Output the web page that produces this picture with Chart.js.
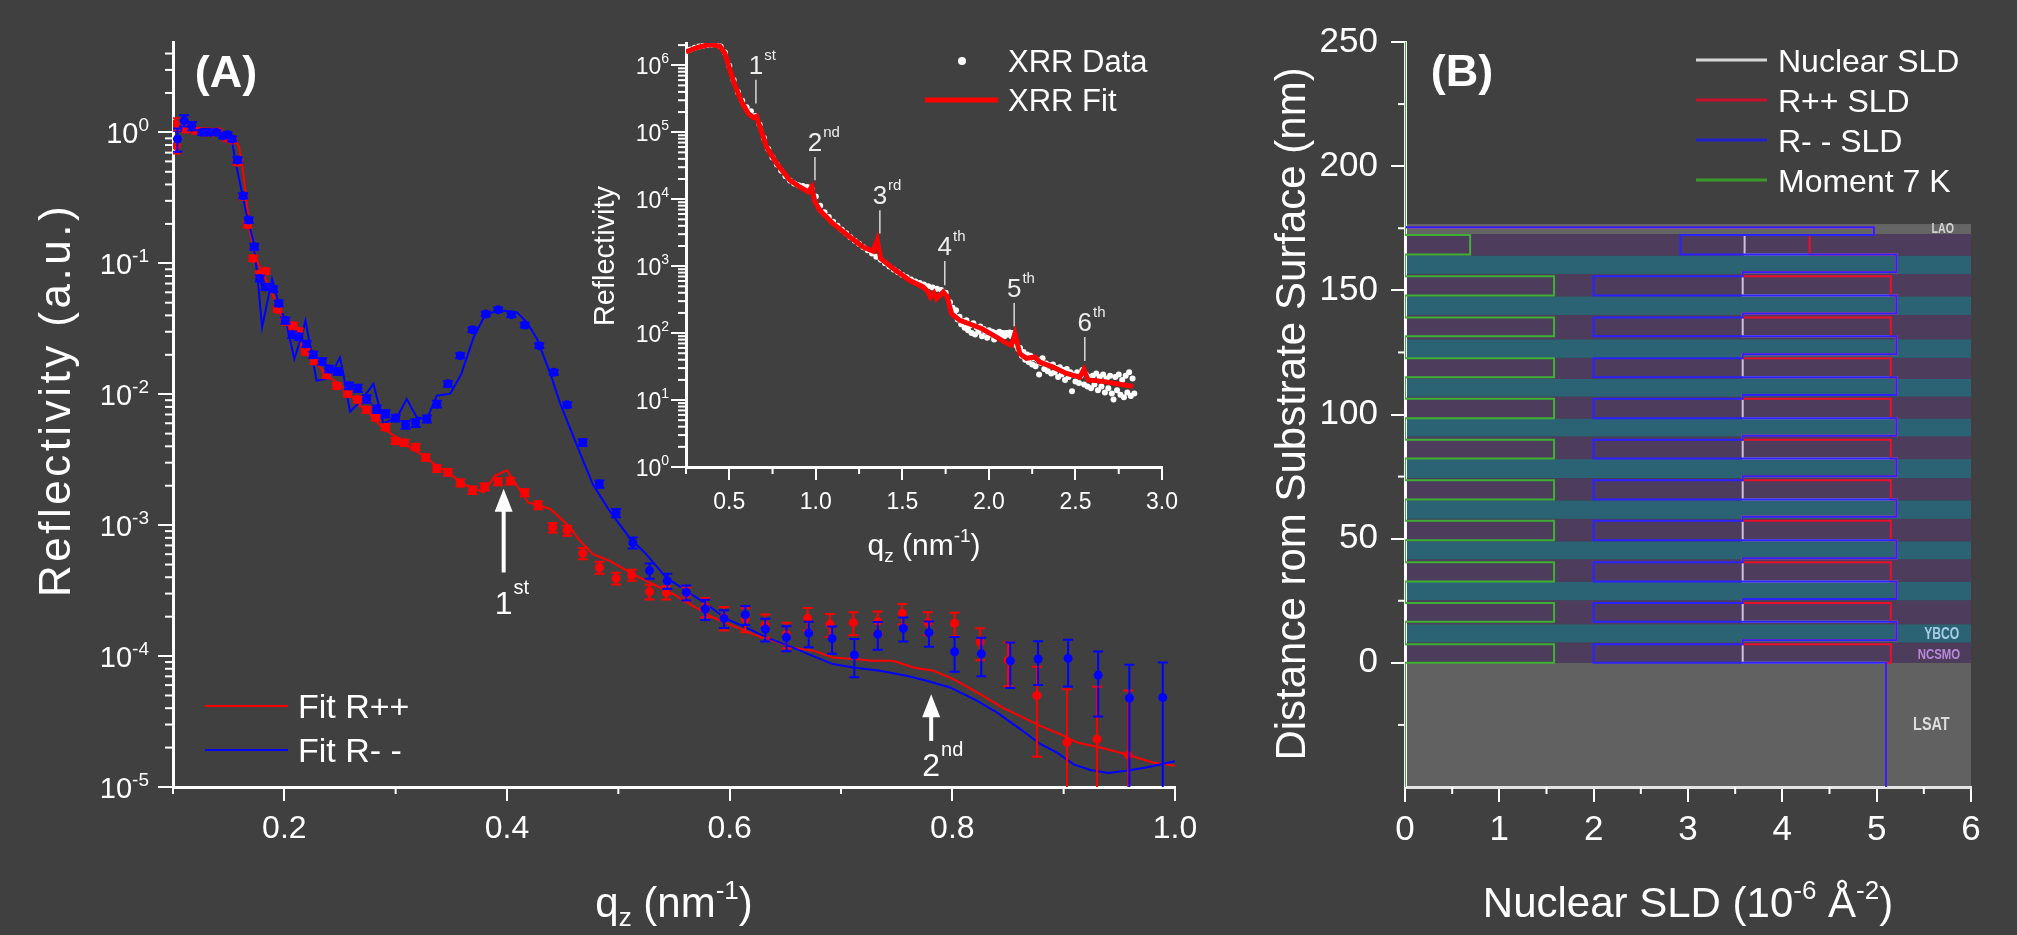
<!DOCTYPE html>
<html>
<head>
<meta charset="utf-8">
<script src="https://cdn.jsdelivr.net/npm/chart.js@4/dist/chart.umd.min.js"></script>
<style>
html, body { margin: 0; padding: 0; background: #404040; width: 2017px; height: 935px; overflow: hidden; }
canvas { position: absolute; top: 0; display: block; }
#cA { left: 0; }
#cI { left: 560px; }
#cB { left: 1250px; }
</style>
</head>
<body>
<canvas id="cA" width="1250" height="935"></canvas>
<canvas id="cI" width="620" height="570"></canvas>
<canvas id="cB" width="767" height="935"></canvas>
<script>
// ---------- panel A : polarized neutron reflectivity ----------
const rppQ = [0.102,0.103,0.112,0.121,0.130,0.135,0.140, 0.148,0.153,0.158,0.163,0.167,0.172,0.178,0.183,
  0.194,0.201,0.208,0.213,0.219,0.227,0.238,0.247, 0.257,0.266,0.274,0.282,0.291,0.300,0.308,0.318,
  0.327,0.337,0.347,0.358,0.369,0.380,0.392,0.403, 0.416,0.428,0.441,0.454,0.468,0.483,0.498,0.512,
  0.528,0.543,0.561,0.578,0.595,0.614,0.632,0.651, 0.670,0.690,0.711,0.733,0.755,0.778,0.802,0.825,
  0.850,0.876,0.903,0.930,0.958];
const rppR = [1.16,0.79,1.06,1.03,1.0,1.0,1.01, 0.906,0.875,0.59,0.323,0.197,0.109,0.083,0.0868,
  0.0446,0.0359,0.0334,0.0302,0.0212,0.0179,0.0140,0.0116, 0.0101,0.0091,0.0076,0.00666,0.0056,0.0044,0.00426,0.00395,
  0.00329,0.00271,0.00253,0.00210,0.00185,0.00196,0.00215,0.00217, 0.00177,0.00142,0.00096,0.00091,0.000608,0.000475,0.000392,0.000416,
  0.000311,0.000306,0.000297,0.000238,0.000197,0.000192,0.000173,0.000147, 0.000195,0.000175,0.000180,0.000184,0.000212,0.000180,0.000178,0.000128,
  0.0000928,0.0000500,0.0000219,0.0000232,0.0000176];
const rppErr = [0.12,0.10,0.06,0.05,0.04,0.04,0.04, 0.04,0.04,0.025,0.014,0.009,0.005,0.004,0.004,
  0.0022,0.0018,0.0017,0.0015,0.0011,0.0009,0.0007,0.0006, 0.0005,0.00045,0.0004,0.00035,0.0003,0.00024,0.00023,0.00022,
  0.00018,0.00016,0.00015,0.00013,0.00012,0.00012,0.00013,0.00013, 0.00011,0.0001,0.00008,0.00008,0.00006,0.00005,0.00004,0.00004,
  0.00004,0.000035,0.000035,0.00004,0.00004,0.00004,0.000035,0.000033, 0.000038,0.000035,0.000036,0.000035,0.000038,0.000036,0.000036,0.000035,
  0.000034,0.000033,0.000034,0.000035,0.000037];

const rmmQ = [0.104,0.110,0.117,0.126,0.130,0.134,0.139, 0.145,0.149,0.153,0.158,0.163,0.168,0.173,0.178,
  0.183,0.190,0.195,0.201,0.207,0.213,0.220,0.226, 0.234,0.240,0.248,0.258,0.266,0.274,0.283,0.291,
  0.300,0.309,0.318,0.328,0.337,0.347,0.358,0.369, 0.381,0.392,0.404,0.416,0.429,0.442,0.454,0.468,
  0.483,0.498,0.513,0.528,0.544,0.561,0.578,0.595, 0.614,0.632,0.651,0.671,0.692,0.712,0.733,0.756,
  0.779,0.802,0.826,0.852,0.877,0.904,0.931,0.959,0.989];
const rmmR = [0.89,1.23,1.12,1.0,1.0,1.0,1.0, 0.94,0.96,0.89,0.615,0.328,0.214,0.134,0.0767,
  0.066,0.0636,0.0494,0.0365,0.0285,0.0275,0.0242,0.020, 0.0178,0.0156,0.0149,0.0116,0.0111,0.0092,0.0077,0.0071,
  0.00658,0.00585,0.00603,0.00647,0.0084,0.012,0.0197,0.0311, 0.041,0.0442,0.0405,0.0338,0.0235,0.0147,0.0083,0.00428,
  0.00206,0.00124,0.000734,0.000449,0.000376,0.000306,0.000229,0.000194, 0.000207,0.000161,0.000139,0.00015,0.000136,0.000102,0.000147,0.000163,
  0.000151,0.000108,0.000104,0.000092,0.000095,0.000096,0.0000716,0.0000478,0.0000483];
const rmmErr = [0.18,0.12,0.08,0.04,0.04,0.04,0.04, 0.04,0.04,0.04,0.03,0.015,0.01,0.007,0.004,
  0.0035,0.0033,0.0025,0.002,0.0016,0.0015,0.0013,0.0011, 0.001,0.0009,0.0009,0.0007,0.0007,0.0006,0.0005,0.00045,
  0.0004,0.0004,0.0004,0.0004,0.0005,0.0006,0.0009,0.0013, 0.0016,0.0017,0.0016,0.0014,0.001,0.0007,0.0004,0.00025,
  0.00013,0.00009,0.00007,0.00006,0.00005,0.00004,0.00004,0.00003, 0.000034,0.000032,0.00003,0.000033,0.000032,0.000033,0.000035,0.000034,
  0.000033,0.000032,0.000034,0.000035,0.000035,0.0000375,0.000037,0.000038,0.000041];

const rppFitQ = [0.100,0.115,0.139,0.154,0.159,0.162,0.165,0.169,0.175,0.184, 0.193,0.202,0.211,0.220,0.229,0.241,0.253,0.265,0.277,0.289,
  0.301,0.313,0.325,0.337,0.349,0.361,0.379,0.389,0.400,0.409, 0.419,0.439,0.457,0.463,0.477,0.492,0.513,0.531,0.549,0.567,
  0.585,0.603,0.621,0.639,0.657,0.675,0.693,0.711,0.729,0.747, 0.765,0.783,0.801,0.825,0.846,0.861,0.879,0.897,0.912,0.933,
  0.956,0.980,1.000];
const rppFitR = [1.1,1.09,1.06,0.916,0.791,0.574,0.359,0.177,0.105,0.0736, 0.0489,0.0334,0.0272,0.0209,0.0170,0.0134,0.0113,0.00865,0.00706,0.00542,
  0.00468,0.00392,0.00339,0.00284,0.00245,0.00206,0.00178,0.00238,0.00263,0.00200, 0.00149,0.00133,0.00096,0.000805,0.000601,0.000535,0.000423,0.000355,0.000298,0.000242,
  0.000197,0.000170,0.000147,0.000131,0.000116,0.000110,0.0000975,0.0000948,0.0000920,0.0000920, 0.0000818,0.0000773,0.0000667,0.0000513,0.000040,0.0000348,0.0000293,0.0000253,0.0000219,0.0000200,
  0.0000178,0.0000154,0.0000145];

const rmmFitQ = [0.100,0.127,0.150,0.153,0.156,0.160,0.166,0.172,0.176,0.180, 0.189,0.196,0.202,0.209,0.216,0.219,0.229,0.238,0.244,0.250,
  0.253,0.259,0.269,0.280,0.289,0.301,0.310,0.319,0.328,0.337, 0.349,0.359,0.370,0.380,0.392,0.409,0.418,0.427,0.439,0.448,
  0.466,0.477,0.492,0.510,0.525,0.543,0.561,0.579,0.597,0.615, 0.633,0.657,0.675,0.693,0.711,0.735,0.759,0.777,0.798,0.822,
  0.840,0.861,0.879,0.894,0.909,0.924,0.940,0.956,0.974,1.000];
const rmmFitR = [1.03,1.0,0.97,0.865,0.608,0.415,0.238,0.149,0.078,0.0324, 0.0759,0.046,0.0344,0.0186,0.0288,0.0365,0.0127,0.0131,0.0151,0.0191,
  0.0143,0.00735,0.00891,0.0120,0.00598,0.00665,0.00919,0.00665,0.00646,0.00975, 0.0101,0.0143,0.0272,0.0398,0.0440,0.0422,0.0353,0.0264,0.0143,0.0084,
  0.00349,0.00206,0.00129,0.000805,0.000601,0.000398,0.000315,0.000250,0.000192,0.000165, 0.000139,0.000116,0.000100,0.0000869,0.0000819,0.0000773,0.0000708,0.0000648,0.0000576,0.0000456,
  0.0000371,0.0000277,0.0000213,0.0000183,0.0000149,0.0000135,0.0000128,0.0000133,0.0000141,0.0000157];

const arrowQ = [0.397, 0.781];
const arrowTip = [1.9e-3, 5.1e-5];
const arrowTail = [4.35e-4, 2.25e-5];
const arrowText = [['1', 'st'], ['2', 'nd']];
const arrowTextR = [2.1e-4, 1.22e-5];

const mainXTicks = [0.2, 0.4, 0.6, 0.8, 1.0];
const mainXMinor = [0.1, 0.3, 0.5, 0.7, 0.9];
const mainYDecades = [-5, -4, -3, -2, -1, 0];

// ---------- inset : XRR ----------
const xrrQ = [0.25,0.275,0.30,0.325,0.35,0.375,0.40,0.425,0.45,0.475, 0.50,0.525,0.55,0.575,0.60,0.625,0.65,0.675,0.70,0.725,
  0.75,0.775,0.80,0.825,0.85,0.875,0.90,0.925,0.95,0.975, 1.00,1.025,1.05,1.075,1.10,1.125,1.15,1.175,1.20,1.225,
  1.25,1.275,1.30,1.325,1.35,1.375,1.40,1.425,1.45,1.475, 1.50,1.525,1.55,1.575,1.60,1.625,1.65,1.675,1.70,1.725,
  1.75,1.775,
  1.79,1.80,1.81,1.82,1.83,1.84,1.85,1.86,1.87,1.88, 1.89,1.90,1.91,1.92,1.93,1.94,1.95,1.96,1.97,1.98,
  1.99,2.00,2.01,2.02,2.03,2.04,2.05,2.06,2.07,2.08, 2.09,2.10,2.11,2.12,2.13,2.14,2.15,2.16,2.17,2.18,
  2.19,2.20,2.21,2.22,2.23,2.24,2.25,2.26,2.27,2.28, 2.29,2.30,2.31,2.32,2.33,2.34,2.35,2.36,2.37,2.38,
  2.39,2.40,2.41,2.42,2.43,2.44,2.45,2.46,2.47,2.48, 2.49,2.50,2.51,2.52,2.53,2.54,2.55,2.56,2.57,2.58,
  2.59,2.60,2.61,2.62,2.63,2.64,2.65,2.66,2.67,2.68, 2.69,2.70,2.71,2.72,2.73,2.74,2.75,2.76,2.77,2.78,
  2.79,2.80,2.81,2.82,2.83,2.84];
const xrrR = [1.62e6,1.72e6,1.82e6,1.9e6,1.97e6,2.02e6,2.04e6,2.02e6,1.9e6,1.55e6, 9.8e5,6.0e5,4.0e5,2.95e5,2.35e5,2.05e5,1.75e5,1.3e5,8.2e4,5.6e4,
  4.2e4,3.3e4,2.65e4,2.2e4,1.9e4,1.72e4,1.62e4,1.57e4,1.52e4,1.42e4, 1.1e4,8.0e3,6.4e3,5.4e3,4.6e3,4.0e3,3.5e3,3.1e3,2.7e3,2.4e3,
  2.15e3,1.92e3,1.72e3,1.55e3,1.38e3,1.24e3,1.1e3,990,890,810, 740,680,630,590,560,530,500,480,460,440,
  400,290,
  240,190,220,160,175,135,150,120,155,110, 130,100,140,95,120,105,125,90,115,105,
  85,110,95,105,80,100,95,105,85,100, 90,100,95,102,90,100,80,65,58,60,
  46,52,40,48,37,46,34,42,32,40, 24,36,42,29,35,27,33,25,34,26,
  30,22,31,24,28,20,29,22,26,13.5, 24,19,26,18,23,28,17,24,16,22,
  15,23,17,25,14,22,16,24,13,21, 15,23,12.5,10.2,22,14,24,12,20,11,
  23,13,26,11.5,21,12.5];

const xrrFitQ = [0.25,0.312,0.389,0.446,0.475,0.504,0.533,0.572,0.610,0.639, 0.658,0.677,0.716,0.774,0.850,0.908,0.956,0.976,0.995,1.024,
  1.100,1.197,1.274,1.331,1.355,1.374,1.447,1.543,1.620,1.649, 1.663,1.682,1.697,1.736,1.759,1.784,1.832,1.909,1.957,2.024,
  2.102,2.130,2.150,2.179,2.217,2.265,2.294,2.371,2.448,2.525, 2.548,2.573,2.659,2.756,2.833];
const xrrFitR = [1.58e6,1.84e6,2.06e6,1.92e6,1.5e6,8.4e5,5.0e5,2.83e5,1.9e5,1.66e5, 1.73e5,1.2e5,6.0e4,3.4e4,1.92e4,1.52e4,1.28e4,1.52e4,9.1e3,6.8e3,
  4.3e3,2.73e3,1.93e3,1.67e3,2.43e3,1.3e3,920,610,490,410, 346,397,327,410,346,195,155,131,117,93,
  71,66,98,49,42,44,37,31,25,22, 28.5,20,19,17.2,16];

const braggQ = [0.654, 0.995, 1.370, 1.745, 2.146, 2.554];
const braggLow = [2.68e5, 1.91e4, 3.06e3, 518, 126, 38.3];
const braggHigh = [6.1e5, 4.27e4, 6.82e3, 1.19e3, 282, 87.5];
const braggText = [['1', 'st'], ['2', 'nd'], ['3', 'rd'], ['4', 'th'], ['5', 'th'], ['6', 'th']];

const insetXTicks = [0.5, 1.0, 1.5, 2.0, 2.5, 3.0];
const insetXMinor = [0.25, 0.75, 1.25, 1.75, 2.25, 2.75];
const insetYDecades = [0, 1, 2, 3, 4, 5, 6];

// ---------- panel B : SLD depth profile ----------
const magBottom = [0, 16.5, 32.8, 49.4, 65.8, 82.3, 98.5, 115.0, 131.5, 147.9, 164.4];
const magTop = [7.5, 24.1, 40.5, 57.2, 73.5, 89.8, 106.3, 122.7, 139.1, 155.7, 172.3];
const capTop = [9.1, 25.7, 42.1, 58.8, 75.1, 91.4, 107.9, 124.3, 140.7, 157.3, 172.3];
const magNuclear = [3.58, 3.58, 3.58, 3.58, 3.58, 3.58, 3.58, 3.58, 3.58, 3.58, 3.6];
const magRpp = [5.15, 5.15, 5.15, 5.15, 5.15, 5.15, 5.15, 5.15, 5.15, 5.15, 4.29];
const magRmm = [2.0, 2.0, 2.0, 2.0, 2.0, 2.0, 2.0, 2.0, 2.0, 2.0, 2.92];
const magMoment = [1.58, 1.58, 1.58, 1.58, 1.58, 1.58, 1.58, 1.58, 1.58, 1.58, 0.69];
const sldLSAT = 5.1, sldYBCO = 5.21, sldCap = 3.58, sldLAO = 4.97;
const laoRange = [172.3, 175.4];

const ncsmoBands = [[0, 8.2], [15.5, 25.2], [32.6, 41.7], [48.9, 58.0], [65.4, 74.4], [82.0, 91.2],
  [98.3, 107.2], [114.3, 122.8], [130.2, 140.1], [147.5, 156.6], [163.9, 172.7]];
const ybcoBands = [[8.2, 15.5], [25.2, 32.6], [41.7, 48.9], [58.0, 65.4], [74.4, 82.0],
  [91.2, 98.3], [107.2, 114.3], [122.8, 130.2], [140.1, 147.5], [156.6, 163.9]];
const laoBand = [172.7, 176.7];
const lsatBand = [-50, 0];

const layerLabels = ['LAO', 'YBCO', 'NCSMO', 'LSAT'];
const layerLabelX = [5.70, 5.69, 5.66, 5.58];
const layerLabelY = [174.7, 11.5, 3.1, -25.1];
const layerLabelColor = ['#d4d4d4', '#a6cde6', '#b88ad8', '#dcdcdc'];
const layerLabelSize = [14, 16, 15, 19];

const sldTicks = [0, 1, 2, 3, 4, 5, 6];
const sldMinor = [0.5, 1.5, 2.5, 3.5, 4.5, 5.5];
const depthTicks = [0, 50, 100, 150, 200, 250];
const depthMinor = [-25, 25, 75, 125, 175, 225];

// ---------- helpers ----------
const FONT = "'Liberation Sans', Arial, sans-serif";
Chart.defaults.font.family = FONT;
Chart.defaults.color = '#ffffff';
Chart.defaults.animation = false;
Chart.defaults.plugins.legend.display = false;
Chart.defaults.plugins.tooltip.enabled = false;

const pts = (xs, ys) => xs.map((x, i) => ({ x: x, y: ys[i] }));

function fixedSize(size) {
  return function (scale) {
    if (scale.isHorizontal()) scale.height = size; else scale.width = size;
    scale.paddingLeft = 0; scale.paddingRight = 0; scale.paddingTop = 0; scale.paddingBottom = 0;
  };
}
function setTicks(values) {
  return function (scale) { scale.ticks = values.map(v => ({ value: v })); };
}

// parts: [text, sizeFactor, riseFactor]
function rich(ctx, parts, x, y, size, align, bold, spacing) {
  ctx.letterSpacing = spacing ? spacing + 'px' : '0px';
  const fonts = parts.map(p => (bold ? 'bold ' : '') + Math.round(size * (p[1] || 1)) + 'px ' + FONT);
  const ws = parts.map((p, i) => { ctx.font = fonts[i]; return ctx.measureText(p[0]).width; });
  const w = ws.reduce((a, b) => a + b, 0);
  let cx = align === 'center' ? x - w / 2 : align === 'right' ? x - w : x;
  ctx.textAlign = 'left';
  ctx.textBaseline = 'alphabetic';
  parts.forEach((p, i) => {
    ctx.font = fonts[i];
    ctx.fillText(p[0], cx, y - size * (p[2] || 0));
    cx += ws[i];
  });
  ctx.letterSpacing = '0px';
}

// number centred on x, suffix as superscript to its right
function ordinal(ctx, num, suf, x, y, size, supSize, rise) {
  ctx.textBaseline = 'alphabetic';
  ctx.font = size + 'px ' + FONT;
  const w = ctx.measureText(num).width;
  ctx.textAlign = 'center';
  ctx.fillText(num, x, y);
  ctx.font = supSize + 'px ' + FONT;
  ctx.textAlign = 'left';
  ctx.fillText(suf, x + w / 2 + 1, y - rise);
}

function seg(ctx, x1, y1, x2, y2) {
  ctx.beginPath(); ctx.moveTo(x1, y1); ctx.lineTo(x2, y2); ctx.stroke();
}

function logMinor(ctx, scale, x0, len, decades, max) {
  decades.forEach(e => {
    for (let m = 2; m <= 9; m++) {
      const v = m * Math.pow(10, e);
      if (v > max) break;
      const py = scale.getPixelForValue(v);
      seg(ctx, x0 - len, py, x0, py);
    }
  });
}

function errorBars(chart, index) {
  const ds = chart.data.datasets[index];
  if (!ds.errors) return;
  const ctx = chart.ctx, ca = chart.chartArea, xs = chart.scales.x, ys = chart.scales.y;
  ctx.save();
  ctx.beginPath();
  ctx.rect(ca.left, ca.top, ca.right - ca.left, ca.bottom - ca.top);
  ctx.clip();
  ctx.strokeStyle = ds.backgroundColor;
  ctx.lineWidth = 2;
  ds.data.forEach((p, i) => {
    const e = ds.errors[i];
    const px = xs.getPixelForValue(p.x);
    const top = ys.getPixelForValue(p.y + e);
    const bot = p.y - e > 0 ? ys.getPixelForValue(p.y - e) : ca.bottom + 20;
    ctx.beginPath();
    ctx.moveTo(px, top); ctx.lineTo(px, bot);
    ctx.moveTo(px - 5, top); ctx.lineTo(px + 5, top);
    ctx.moveTo(px - 5, bot); ctx.lineTo(px + 5, bot);
    ctx.stroke();
  });
  ctx.restore();
}

const axisGrid = len => ({ drawOnChartArea: false, color: '#ffffff', lineWidth: 2, tickLength: len });

// ---------- chart A ----------
const decorA = {
  id: 'decorA',
  beforeDatasetDraw(chart, args) { errorBars(chart, args.index); },
  afterDraw(chart) {
    const ctx = chart.ctx, ca = chart.chartArea, xs = chart.scales.x, ys = chart.scales.y;
    ctx.save();
    ctx.strokeStyle = '#ffffff'; ctx.fillStyle = '#ffffff'; ctx.lineWidth = 2;
    mainXMinor.forEach(v => { const px = xs.getPixelForValue(v); seg(ctx, px, ca.bottom, px, ca.bottom + 7); });
    logMinor(ctx, ys, ca.left, 8, mainYDecades, ys.max);
    mainYDecades.forEach(e => {
      rich(ctx, [['10'], [String(e), 0.66, 0.42]], 149, ys.getPixelForValue(Math.pow(10, e)) + 11, 29, 'right');
    });
    // axis titles
    ctx.save();
    ctx.translate(70, 400); ctx.rotate(-Math.PI / 2);
    rich(ctx, [['Reflectivity (a.u.)']], 0, 0, 44, 'center', false, 3.5);
    ctx.restore();
    rich(ctx, [['q'], ['z', 0.62, -0.22], [' (nm'], ['-1', 0.62, 0.42], [')']], 674, 917, 42, 'center');
    rich(ctx, [['(A)']], 226, 87, 45, 'center', true);
    // legend
    const leg = [['Fit R++', '#ff0000', 706], ['Fit R- -', '#0000ff', 750]];
    leg.forEach(l => {
      ctx.strokeStyle = l[1]; ctx.lineWidth = 2;
      seg(ctx, 205, l[2], 288, l[2]);
      rich(ctx, [[l[0]]], 298, l[2] + 12, 34, 'left');
    });
    // arrows
    ctx.strokeStyle = '#ffffff'; ctx.fillStyle = '#ffffff';
    arrowQ.forEach((q, i) => {
      const px = xs.getPixelForValue(q);
      const tip = ys.getPixelForValue(arrowTip[i]), tail = ys.getPixelForValue(arrowTail[i]);
      ctx.lineWidth = 4;
      seg(ctx, px, tail, px, tip + 18);
      ctx.beginPath(); ctx.moveTo(px, tip); ctx.lineTo(px - 9, tip + 23); ctx.lineTo(px + 9, tip + 23); ctx.closePath(); ctx.fill();
      ordinal(ctx, arrowText[i][0], arrowText[i][1], px, ys.getPixelForValue(arrowTextR[i]), 32, 20, 20);
    });
    ctx.restore();
  }
};

new Chart(document.getElementById('cA'), {
  type: 'scatter',
  data: {
    datasets: [
      { label: 'Fit R++', data: pts(rppFitQ, rppFitR), showLine: true, borderColor: '#ff0000', borderWidth: 2, pointRadius: 0, order: 4 },
      { label: 'Fit R- -', data: pts(rmmFitQ, rmmFitR), showLine: true, borderColor: '#0000ff', borderWidth: 2, pointRadius: 0, order: 3 },
      { label: 'R++', data: pts(rppQ, rppR), errors: rppErr, backgroundColor: '#ff0000', borderWidth: 0, pointRadius: 4.5, order: 2 },
      { label: 'R- -', data: pts(rmmQ, rmmR), errors: rmmErr, backgroundColor: '#0000ff', borderWidth: 0, pointRadius: 4.5, order: 1 }
    ]
  },
  options: {
    responsive: false, devicePixelRatio: 1,
    layout: { padding: { left: 0, top: 42, right: 75, bottom: 0 } },
    scales: {
      x: { type: 'linear', min: 0.1, max: 1.0, bounds: 'data',
        afterBuildTicks: setTicks(mainXTicks), afterFit: fixedSize(148),
        grid: axisGrid(14), border: { color: '#ffffff', width: 3 },
        ticks: { color: '#ffffff', font: { size: 32 }, padding: 9, maxRotation: 0, callback: v => v.toFixed(1) } },
      y: { type: 'logarithmic', min: 1e-5, max: 4.9, bounds: 'data',
        afterBuildTicks: setTicks(mainYDecades.map(e => Math.pow(10, e))), afterFit: fixedSize(173),
        grid: axisGrid(15), border: { color: '#ffffff', width: 3 },
        ticks: { display: false } }
    }
  },
  plugins: [decorA]
});

// ---------- inset ----------
const decorI = {
  id: 'decorI',
  afterDraw(chart) {
    const ctx = chart.ctx, ca = chart.chartArea, xs = chart.scales.x, ys = chart.scales.y;
    ctx.save();
    ctx.strokeStyle = '#ffffff'; ctx.fillStyle = '#ffffff'; ctx.lineWidth = 2;
    insetXMinor.forEach(v => { const px = xs.getPixelForValue(v); seg(ctx, px, ca.bottom, px, ca.bottom + 7); });
    logMinor(ctx, ys, ca.left, 8, insetYDecades, ys.max);
    insetYDecades.forEach(e => {
      rich(ctx, [['10'], [String(e), 0.6, 0.46]], 109, ys.getPixelForValue(Math.pow(10, e)) + 8.5, 23, 'right');
    });
    ctx.save();
    ctx.translate(54, 256); ctx.rotate(-Math.PI / 2);
    rich(ctx, [['Reflectivity']], 0, 0, 29, 'center');
    ctx.restore();
    rich(ctx, [['q'], ['z', 0.62, -0.22], [' (nm'], ['-1', 0.62, 0.42], [')']], 364, 555, 30, 'center');
    // Bragg peak markers
    ctx.strokeStyle = '#d8d8d8'; ctx.fillStyle = '#eeeeee'; ctx.lineWidth = 1.5;
    braggQ.forEach((q, i) => {
      const px = xs.getPixelForValue(q);
      const lo = ys.getPixelForValue(braggLow[i]), hi = ys.getPixelForValue(braggHigh[i]);
      seg(ctx, px, lo, px, hi);
      ordinal(ctx, braggText[i][0], braggText[i][1], px, hi - 6, 26, 15, 14);
    });
    // legend
    ctx.fillStyle = '#ffffff';
    ctx.beginPath(); ctx.arc(402, 61, 4, 0, Math.PI * 2); ctx.fill();
    ctx.strokeStyle = '#ff0000'; ctx.lineWidth = 5;
    seg(ctx, 365, 100, 438, 100);
    rich(ctx, [['XRR Data']], 448, 72, 31, 'left');
    rich(ctx, [['XRR Fit']], 448, 111, 31, 'left');
    ctx.restore();
  }
};

new Chart(document.getElementById('cI'), {
  type: 'scatter',
  data: {
    datasets: [
      { label: 'XRR Fit', data: pts(xrrFitQ, xrrFitR), showLine: true, borderColor: '#ff0000', borderWidth: 5, pointRadius: 0, order: 0 },
      { label: 'XRR Data', data: pts(xrrQ, xrrR), backgroundColor: '#ffffff', borderWidth: 0, pointRadius: 3, order: 1 }
    ]
  },
  options: {
    responsive: false, devicePixelRatio: 1,
    layout: { padding: { left: 0, top: 43, right: 18, bottom: 0 } },
    scales: {
      x: { type: 'linear', min: 0.25, max: 3.0, bounds: 'data',
        afterBuildTicks: setTicks(insetXTicks), afterFit: fixedSize(103),
        grid: axisGrid(13), border: { color: '#ffffff', width: 3 },
        ticks: { color: '#ffffff', font: { size: 23 }, padding: 9, maxRotation: 0, callback: v => v.toFixed(1) } },
      y: { type: 'logarithmic', min: 1, max: 2.15e6, bounds: 'data',
        afterBuildTicks: setTicks(insetYDecades.map(e => Math.pow(10, e))), afterFit: fixedSize(126),
        grid: axisGrid(15), border: { color: '#ffffff', width: 3 },
        ticks: { display: false } }
    }
  },
  plugins: [decorI]
});

// ---------- chart B ----------
function profile(sub, mag, cap, ybco, lao) {
  const p = [{ x: sub, y: lsatBand[0] }, { x: sub, y: 0 }];
  for (let i = 0; i < magBottom.length; i++) {
    p.push({ x: mag[i], y: magBottom[i] }, { x: mag[i], y: magTop[i] });
    if (capTop[i] > magTop[i]) p.push({ x: cap, y: magTop[i] }, { x: cap, y: capTop[i] });
    if (i < magBottom.length - 1) p.push({ x: ybco, y: capTop[i] }, { x: ybco, y: magBottom[i + 1] });
  }
  p.push({ x: lao, y: laoRange[0] }, { x: lao, y: laoRange[1] }, { x: 0, y: laoRange[1] }, { x: 0, y: 250 });
  return p;
}

const decorB = {
  id: 'decorB',
  beforeDraw(chart) {
    const ctx = chart.ctx, ca = chart.chartArea, xs = chart.scales.x, ys = chart.scales.y;
    ctx.save();
    ctx.beginPath(); ctx.rect(ca.left, ca.top, ca.right - ca.left, ca.bottom - ca.top); ctx.clip();
    const band = (b, color) => {
      const y1 = ys.getPixelForValue(b[1]), y0 = ys.getPixelForValue(b[0]);
      ctx.fillStyle = color;
      ctx.fillRect(xs.getPixelForValue(0), y1, xs.getPixelForValue(6) - xs.getPixelForValue(0), y0 - y1);
    };
    band(lsatBand, '#616161');
    ncsmoBands.forEach(b => band(b, '#4e3c5d'));
    ybcoBands.forEach(b => band(b, '#2c6374'));
    band(laoBand, '#656565');
    ctx.restore();
  },
  afterDraw(chart) {
    const ctx = chart.ctx, ca = chart.chartArea, xs = chart.scales.x, ys = chart.scales.y;
    ctx.save();
    ctx.strokeStyle = '#ffffff'; ctx.fillStyle = '#ffffff'; ctx.lineWidth = 2;
    sldMinor.forEach(v => { const px = xs.getPixelForValue(v); seg(ctx, px, ca.bottom, px, ca.bottom + 7); });
    depthMinor.forEach(v => { const py = ys.getPixelForValue(v); seg(ctx, ca.left - 7, py, ca.left, py); });
    ctx.save();
    ctx.translate(55, 414); ctx.rotate(-Math.PI / 2);
    rich(ctx, [['Distance rom Substrate Surface (nm)']], 0, 0, 42, 'center');
    ctx.restore();
    rich(ctx, [['Nuclear SLD (10'], ['-6', 0.62, 0.42], [' Å'], ['-2', 0.62, 0.42], [')']], 438, 917, 42, 'center');
    rich(ctx, [['(B)']], 212, 86, 45, 'center', true);
    // layer names
    layerLabels.forEach((t, i) => {
      ctx.save();
      ctx.translate(xs.getPixelForValue(layerLabelX[i]), ys.getPixelForValue(layerLabelY[i]));
      ctx.scale(0.76, 1);
      ctx.fillStyle = layerLabelColor[i];
      ctx.font = 'bold ' + layerLabelSize[i] + 'px ' + FONT;
      ctx.textAlign = 'center'; ctx.textBaseline = 'middle';
      ctx.fillText(t, 0, 0);
      ctx.restore();
    });
    // legend
    chart.data.datasets.slice().reverse().forEach((ds, i) => {
      const y = 60 + i * 40;
      ctx.strokeStyle = ds.legendColor; ctx.lineWidth = 3;
      seg(ctx, 446, y, 517, y);
      ctx.fillStyle = '#ffffff';
      rich(ctx, [[ds.label]], 528, y + 11.5, 32, 'left');
    });
    ctx.restore();
  }
};

new Chart(document.getElementById('cB'), {
  type: 'scatter',
  data: {
    datasets: [
      { label: 'Moment 7 K', legendColor: '#3a9a2a', data: profile(0, magMoment, 0, 0, 0), showLine: true, borderColor: '#3fb035', borderWidth: 2, pointRadius: 0, order: 1 },
      { label: 'R- - SLD', legendColor: '#2020cc', data: profile(sldLSAT, magRmm, sldCap, sldYBCO, sldLAO), showLine: true, borderColor: '#2b22ff', borderWidth: 2, pointRadius: 0, order: 2 },
      { label: 'R++ SLD', legendColor: '#c8102a', data: profile(sldLSAT, magRpp, sldCap, sldYBCO, sldLAO), showLine: true, borderColor: '#e8102a', borderWidth: 2, pointRadius: 0, order: 3 },
      { label: 'Nuclear SLD', legendColor: '#d8d8d8', data: profile(sldLSAT, magNuclear, sldCap, sldYBCO, sldLAO), showLine: true, borderColor: '#cbbfdb', borderWidth: 2, pointRadius: 0, order: 4 }
    ]
  },
  options: {
    responsive: false, devicePixelRatio: 1,
    layout: { padding: { left: 0, top: 42, right: 46, bottom: 0 } },
    scales: {
      x: { type: 'linear', min: 0, max: 6, bounds: 'data',
        afterBuildTicks: setTicks(sldTicks), afterFit: fixedSize(148),
        grid: axisGrid(15), border: { color: '#e4e4e4', width: 3 },
        ticks: { color: '#ffffff', font: { size: 35 }, padding: 7, maxRotation: 0 } },
      y: { type: 'linear', min: -50, max: 250, bounds: 'data',
        afterBuildTicks: setTicks(depthTicks), afterFit: fixedSize(155),
        grid: axisGrid(14), border: { color: '#ffffff', width: 3 },
        ticks: { color: '#ffffff', font: { size: 35 }, padding: 13 } }
    }
  },
  plugins: [decorB]
});
</script>
</body>
</html>
